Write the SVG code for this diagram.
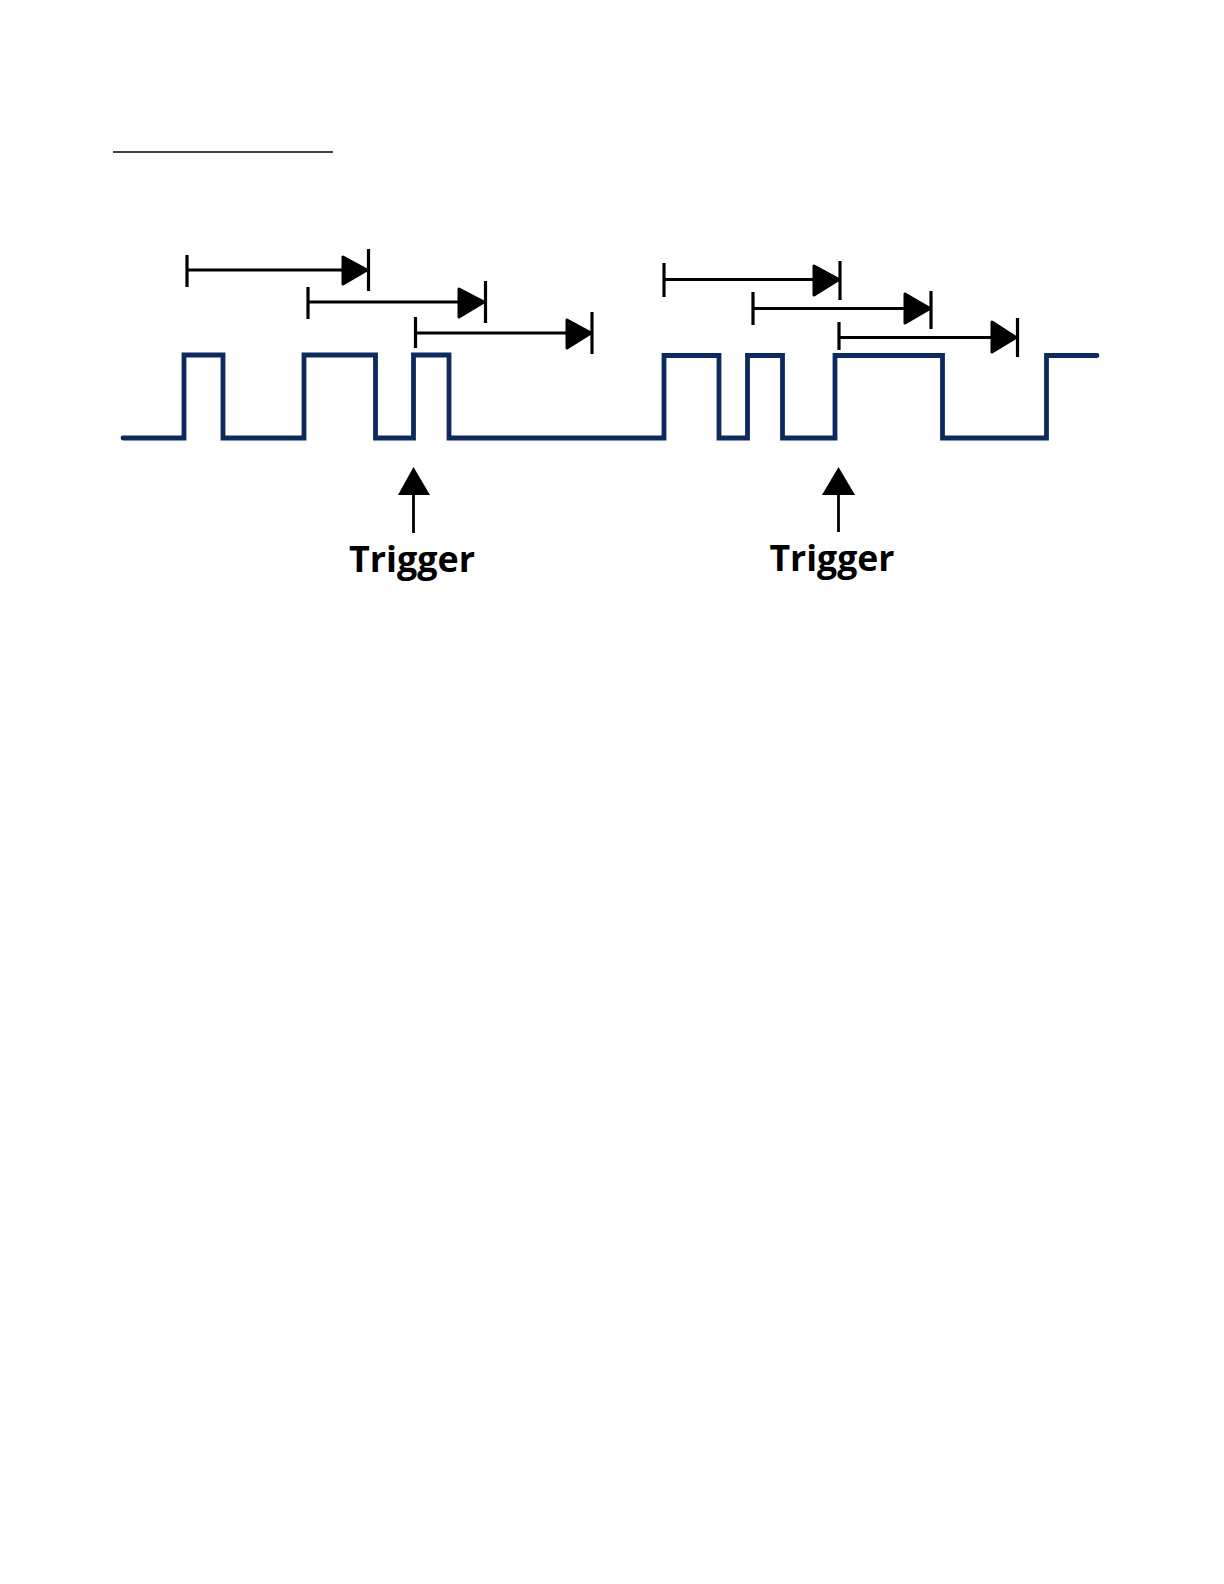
<svg xmlns="http://www.w3.org/2000/svg" width="1224" height="1584" viewBox="0 0 1224 1584">
<style>
.wave{fill:none;stroke:#0c2a5e;stroke-width:4.8;stroke-linejoin:miter;stroke-linecap:round}
.dim{fill:none;stroke:#000;stroke-width:3}
.tick{stroke:#000;stroke-width:3.2}
.head{fill:#000;stroke:#000;stroke-width:3;stroke-linejoin:round}
.lbl{font-family:"Open Sans","Liberation Sans",sans-serif;font-weight:bold;font-size:35px;fill:#000}
</style>
<rect width="1224" height="1584" fill="#fff"/>
<line x1="113" y1="152" x2="333" y2="152" stroke="#000" stroke-width="1.6"/>
<g id="connectors">
<g id="span1"><line class="tick" x1="187" y1="255" x2="187" y2="287"/><line class="dim" x1="187" y1="270" x2="345" y2="270"/><polygon class="head" points="343,257 343,284 367,270"/><line class="tick" x1="368.5" y1="249" x2="368.5" y2="291"/></g>
<g id="span2"><line class="tick" x1="308" y1="287" x2="308" y2="319"/><line class="dim" x1="308" y1="302" x2="460" y2="302"/><polygon class="head" points="459,289 459,317 484,302"/><line class="tick" x1="485.5" y1="281" x2="485.5" y2="323"/></g>
<g id="span3"><line class="tick" x1="415.5" y1="317" x2="415.5" y2="348"/><line class="dim" x1="415.5" y1="333" x2="568" y2="333"/><polygon class="head" points="567,320 567,348 591,333"/><line class="tick" x1="592" y1="312" x2="592" y2="354"/></g>
<g id="span4"><line class="tick" x1="664" y1="263" x2="664" y2="297"/><line class="dim" x1="664" y1="279.5" x2="815" y2="279.5"/><polygon class="head" points="814,266 814,295 839,279.5"/><line class="tick" x1="840" y1="261" x2="840" y2="300"/></g>
<g id="span5"><line class="tick" x1="753" y1="292" x2="753" y2="325"/><line class="dim" x1="753" y1="308.5" x2="906" y2="308.5"/><polygon class="head" points="905,294 905,323 930,308.5"/><line class="tick" x1="931" y1="291" x2="931" y2="329"/></g>
<g id="span6"><line class="tick" x1="839" y1="322" x2="839" y2="350"/><line class="dim" x1="839" y1="337.5" x2="993" y2="337.5"/><polygon class="head" points="992,322 992,352 1016,337.5"/><line class="tick" x1="1017.5" y1="318" x2="1017.5" y2="357"/></g>
<g id="trigger-arrow1"><line x1="413.5" y1="494" x2="413.5" y2="533" stroke="#000" stroke-width="2.8"/><polygon points="413.5,467 398,495 430,495" fill="#000"/></g>
<g id="trigger-arrow2"><line x1="838.5" y1="494" x2="838.5" y2="532" stroke="#000" stroke-width="2.8"/><polygon points="838.5,467 822,495 855,495" fill="#000"/></g>
</g>
<g id="waveform">
<path class="wave" d="M123,438 H184 V355 H223 V438 H304 V355 H375.5 V438 H413.5 V355 H449 V438 H664 V355.5 H719 V438 H747.5 V355.5 H782.5 V438 H835 V355.5 H942.5 V438 H1046.5 V355.5 H1097"/>
</g>
<g id="label1"><text class="lbl" x="412" y="572" text-anchor="middle" textLength="126" lengthAdjust="spacingAndGlyphs">Trigger</text></g>
<g id="label2"><text class="lbl" x="832" y="571" text-anchor="middle" textLength="125" lengthAdjust="spacingAndGlyphs">Trigger</text></g>
</svg>
